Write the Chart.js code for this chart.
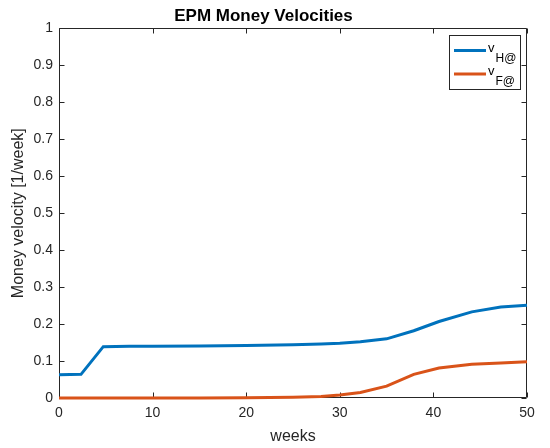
<!DOCTYPE html>
<html>
<head>
<meta charset="utf-8">
<script src="https://cdn.jsdelivr.net/npm/chart.js@4.4.1/dist/chart.umd.min.js"></script>
<style>
  html, body { margin: 0; padding: 0; background: #fff; }
  #chartCanvas { display: block; }
</style>
</head>
<body>
<canvas id="chartCanvas" width="550" height="448"></canvas>
<script>
// simulation output, sampled weeks
const semanas = [0, 2.35, 4.73, 7.5, 10, 15, 20, 25, 28, 30, 32.2, 35, 37.9, 40.6, 44.1, 47.2, 50];
const velH = [0.063, 0.064, 0.139, 0.140, 0.140, 0.141, 0.142, 0.144, 0.146, 0.148, 0.152, 0.160, 0.182, 0.207, 0.233, 0.246, 0.251];
const velF = [0, 0, 0, 0, 0, 0, 0.001, 0.002, 0.004, 0.008, 0.015, 0.032, 0.064, 0.081, 0.091, 0.095, 0.098];

const ticksX = [0, 10, 20, 30, 40, 50];
const ticksY = [0, 0.1, 0.2, 0.3, 0.4, 0.5, 0.6, 0.7, 0.8, 0.9, 1];
const etiquetasY = ['0', '0.1', '0.2', '0.3', '0.4', '0.5', '0.6', '0.7', '0.8', '0.9', '1'];

const series = [
    { nombre: 'v', sub: 'H@', valores: velH, color: '#0072BD' },
    { nombre: 'v', sub: 'F@', valores: velF, color: '#D95319' }
];

const ejeColor = '#262626';
const fuente = '"Liberation Sans", Arial, Helvetica, sans-serif';

function puntos(valores) {
    return semanas.map((x, i) => ({ x: x, y: valores[i] }));
}

// box around the axes with inward ticks on every side
const cajaEjes = {
    id: 'cajaEjes',
    beforeDatasetsDraw(chart) {
        const { ctx, chartArea: a, scales } = chart;
        const largo = 5;
        const izq = Math.round(a.left) + 0.5, der = Math.round(a.right) - 0.5;
        const arr = Math.round(a.top) + 0.5, aba = Math.round(a.bottom) - 0.5;
        ctx.save();
        ctx.strokeStyle = ejeColor;
        ctx.lineWidth = 1;
        ctx.beginPath();
        ctx.rect(izq, arr, der - izq, aba - arr);
        ticksX.forEach(v => {
            const x = Math.round(scales.x.getPixelForValue(v)) + 0.5;
            ctx.moveTo(x, aba); ctx.lineTo(x, aba - largo);
            ctx.moveTo(x, arr); ctx.lineTo(x, arr + largo);
        });
        ticksY.forEach(v => {
            const y = Math.round(scales.y.getPixelForValue(v)) + 0.5;
            ctx.moveTo(izq, y); ctx.lineTo(izq + largo, y);
            ctx.moveTo(der, y); ctx.lineTo(der - largo, y);
        });
        ctx.stroke();
        ctx.restore();
    }
};

// legend with subscripts
const leyenda = {
    id: 'leyenda',
    afterDraw(chart) {
        const { ctx, chartArea: a } = chart;
        const x0 = Math.round(a.right) - 78, y0 = Math.round(a.top) + 7, w = 71, h = 54;
        ctx.save();
        ctx.fillStyle = '#fff';
        ctx.fillRect(x0, y0, w, h);
        ctx.strokeStyle = ejeColor;
        ctx.lineWidth = 1;
        ctx.strokeRect(x0 + 0.5, y0 + 0.5, w, h);
        series.forEach((s, i) => {
            const y = y0 + 15.5 + i * 23.5;
            ctx.strokeStyle = s.color;
            ctx.lineWidth = 3;
            ctx.beginPath();
            ctx.moveTo(x0 + 5, y);
            ctx.lineTo(x0 + 37, y);
            ctx.stroke();
            ctx.fillStyle = '#000';
            ctx.textBaseline = 'alphabetic';
            ctx.font = '13px ' + fuente;
            ctx.fillText(s.nombre, x0 + 39, y + 1);
            const anchoV = ctx.measureText(s.nombre).width;
            ctx.font = '12px ' + fuente;
            ctx.fillText(s.sub, x0 + 40 + anchoV, y + 11);
        });
        ctx.restore();
    }
};

const ctx = document.getElementById('chartCanvas').getContext('2d');
const grafica = new Chart(ctx, {
    type: 'line',
    data: {
        datasets: series.map(s => ({
            label: s.nombre + '_' + s.sub,
            data: puntos(s.valores),
            borderColor: s.color,
            backgroundColor: s.color,
            borderWidth: 3,
            pointRadius: 0,
            fill: false,
            tension: 0,
            clip: 4
        }))
    },
    options: {
        responsive: false,
        animation: false,
        layout: { padding: { left: 0, right: 23, top: 0, bottom: 0 } },
        scales: {
            x: {
                type: 'linear',
                min: 0,
                max: 50,
                afterFit: s => { s.height = 50; },
                afterBuildTicks: s => { s.ticks = ticksX.map(v => ({ value: v })); },
                grid: { display: false, drawTicks: false },
                border: { display: false },
                ticks: { color: ejeColor, padding: 7, font: { family: fuente, size: 14 } },
                title: {
                    display: true,
                    text: 'weeks',
                    color: ejeColor,
                    padding: { top: 0, bottom: 2 },
                    font: { family: fuente, size: 16 }
                }
            },
            y: {
                type: 'linear',
                min: 0,
                max: 1,
                afterFit: s => { s.width = 59; },
                afterBuildTicks: s => { s.ticks = ticksY.map(v => ({ value: v })); },
                grid: { display: false, drawTicks: false },
                border: { display: false },
                ticks: {
                    color: ejeColor,
                    padding: 6,
                    font: { family: fuente, size: 14 },
                    callback: (valor, i) => etiquetasY[i]
                },
                title: {
                    display: true,
                    text: 'Money velocity [1/week]',
                    color: ejeColor,
                    padding: { top: 9, bottom: 0 },
                    font: { family: fuente, size: 16 }
                }
            }
        },
        plugins: {
            legend: { display: false },
            tooltip: { enabled: false },
            title: {
                display: true,
                text: 'EPM Money Velocities',
                color: '#000',
                padding: { top: 6, bottom: 2 },
                font: { family: fuente, size: 17, weight: 'bold', lineHeight: 1.2 }
            }
        }
    },
    plugins: [cajaEjes, leyenda]
});
</script>
</body>
</html>
